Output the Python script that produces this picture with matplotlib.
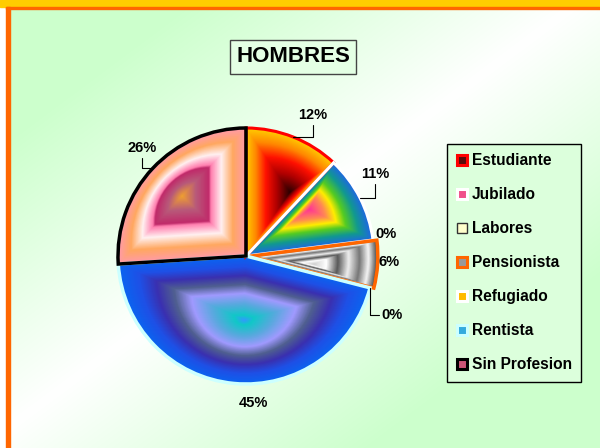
import numpy as np
import matplotlib
matplotlib.use("Agg")
import matplotlib.pyplot as plt
from matplotlib.patches import Rectangle, PathPatch
from matplotlib.path import Path
from matplotlib.lines import Line2D
from matplotlib.colors import LinearSegmentedColormap

plt.rcParams['font.family'] = ['Liberation Sans', 'DejaVu Sans']

# data
categories = ['Estudiante', 'Jubilado', 'Labores', 'Pensionista',
              'Refugiado', 'Rentista', 'Sin Profesion']
values = [12, 11, 0, 6, 0, 45, 26]
pct_labels = ['12%', '11%', '0%', '6%', '0%', '45%', '26%']

# styling per slice: gradient stops (0 = centre, 1 = outside), edge colour
gradients = [
    [(0, '#2a0000'), (0.3, '#b00000'), (0.55, '#ff1000'), (0.78, '#ff8800'), (1, '#ffcc00')],
    [(0, '#ff3399'), (0.25, '#ff8855'), (0.42, '#ffee00'), (0.58, '#55cc22'),
     (0.78, '#119990'), (1, '#1f66e6')],
    None,
    [(0, '#d0d0d0'), (0.2, '#ffffff'), (0.38, '#5a5a5a'), (0.55, '#eeeeee'),
     (0.72, '#777777'), (0.86, '#f5f5f5'), (1, '#444444')],
    None,
    [(0, '#3399ff'), (0.08, '#10c8c8'), (0.25, '#55aadd'), (0.42, '#a09aff'),
     (0.56, '#506090'), (0.7, '#3a30b0'), (0.84, '#1f50e6'), (1, '#0a64f0')],
    [(0, '#f0a030'), (0.22, '#b85a7a'), (0.42, '#c02a6a'), (0.46, '#ff80b0'),
     (0.62, '#fff0f0'), (0.8, '#ffa860'), (1, '#ff9aaa')],
]
edge_colors = ['#ff0000', '#ffffff', '#000000', '#ff6600', '#ffffff', '#ccffff', '#000000']
edge_widths = [2.2, 2.2, 0, 2.5, 0, 2.5, 2.5]
explode = [0, 0, 0, 0.03, 0, 0, 0]

legend_inner = ['#5a0a0a', '#f0508a', '#ffffcc', '#999999', '#ffbb00', '#33aadd', '#cc5577']
legend_outer = ['#ff0000', '#ffffff', '#333333', '#ff6600', '#ffffff', '#ccffff', '#000000']
legend_mew = [2.2, 2.2, 1.0, 2.2, 2.2, 2.2, 2.2]

# label positions (pie radius = 1), leader line style
label_pos = [(0.52, 1.10), (1.01, 0.64), (1.09, 0.17), (1.12, -0.05),
             (1.14, -0.46), (0.06, -1.15), (-0.81, 0.84)]
leader = ['angle,angleA=90,angleB=0', 'angle,angleA=90,angleB=0', None, None,
          'angle,angleA=0,angleB=90', None, 'angle,angleA=90,angleB=0']

W, H = 600, 448
fig = plt.figure(figsize=(W / 100, H / 100), dpi=100)

# background
ax_bg = fig.add_axes([0, 0, 1, 1])
ax_bg.set_xlim(0, W)
ax_bg.set_ylim(H, 0)
ax_bg.axis('off')
xx = np.linspace(0, 1, W)[None, :]
yy = np.linspace(0, 1, H)[:, None]
s = np.clip(np.abs(xx + yy - 0.97) / 0.65, 0, 1)[..., None]
green = np.array([0.80, 1.0, 0.80])
img = (1 - s) * np.ones(3) + s * green
ax_bg.imshow(img, extent=(0, W, H, 0), aspect='auto', zorder=0)
ax_bg.add_patch(Rectangle((0, 7), 6, H, color='white', zorder=1))
ax_bg.add_patch(Rectangle((0, 0), W, 7, color='#ffcc00', zorder=1))
ax_bg.add_patch(Rectangle((6, 7), W, 2.3, color='#ff6600', zorder=1))
ax_bg.add_patch(Rectangle((6, 7), 4.3, H, color='#ff6600', zorder=1))

# pie
ax = fig.add_axes([54 / W, 0, 384 / W, 384 / H])
ax.patch.set_alpha(0)
wedges, _ = ax.pie(values, startangle=90, counterclock=False,
                   explode=explode, radius=1)
ax.set_xlim(-1.5, 1.5)
ax.set_ylim(-1.5, 1.5)
ax.set_aspect('equal')
ax.axis('off')

for w, grad, ec, lw, v in zip(wedges, gradients, edge_colors, edge_widths, values):
    w.set_facecolor('none')
    w.set_edgecolor(ec)
    w.set_linewidth(lw)
    w.set_zorder(3)
    if v == 0 or grad is None:
        continue
    path = w.get_patch_transform().transform_path(w.get_path())
    ext = path.get_extents()
    c = np.array([(ext.x0 + ext.x1) / 2, (ext.y0 + ext.y1) / 2])
    cmap = LinearSegmentedColormap.from_list('g', grad)
    for t in np.linspace(1, 0.01, 110):
        p = Path(c + t * (path.vertices - c), path.codes)
        ax.add_patch(PathPatch(p, facecolor=cmap(t), edgecolor='none', lw=0, zorder=1))

# labels
for w, lab, pos, conn in zip(wedges, pct_labels, label_pos, leader):
    ang = np.deg2rad((w.theta1 + w.theta2) / 2)
    if conn is None:
        ax.text(pos[0], pos[1], lab, ha='center', va='center',
                fontsize=10.5, fontweight='bold', zorder=5)
    else:
        xy = (np.cos(ang) * w.r + w.center[0], np.sin(ang) * w.r + w.center[1])
        ax.annotate(lab, xy=xy, xytext=pos, ha='center', va='center',
                    fontsize=10.5, fontweight='bold', zorder=5,
                    arrowprops=dict(arrowstyle='-', color='black', lw=0.8,
                                    connectionstyle=conn, shrinkA=0, shrinkB=0))

# title
fig.text(293 / W, 1 - 57 / H, 'HOMBRES', ha='center', va='center',
         fontsize=16, fontweight='bold',
         bbox=dict(boxstyle='square,pad=0.28', facecolor='#e4ffe4',
                   edgecolor='#444444', lw=1))

# legend
handles = [Line2D([], [], marker='s', linestyle='none', markersize=7,
                  markerfacecolor=fi, markeredgecolor=fo, markeredgewidth=mw)
           for fi, fo, mw in zip(legend_inner, legend_outer, legend_mew)]
leg = fig.legend(handles, categories, loc='upper left',
                 bbox_to_anchor=(447 / W, 1 - 144 / H),
                 prop=dict(weight='bold', size=11.2), frameon=True, fancybox=False,
                 edgecolor='black', facecolor='#dcffdc', framealpha=1,
                 handlelength=0.75, handletextpad=0.25, labelspacing=1.22,
                 borderpad=0.6, borderaxespad=0)
leg.get_frame().set_linewidth(1)

fig.savefig('out.png', dpi=100)
